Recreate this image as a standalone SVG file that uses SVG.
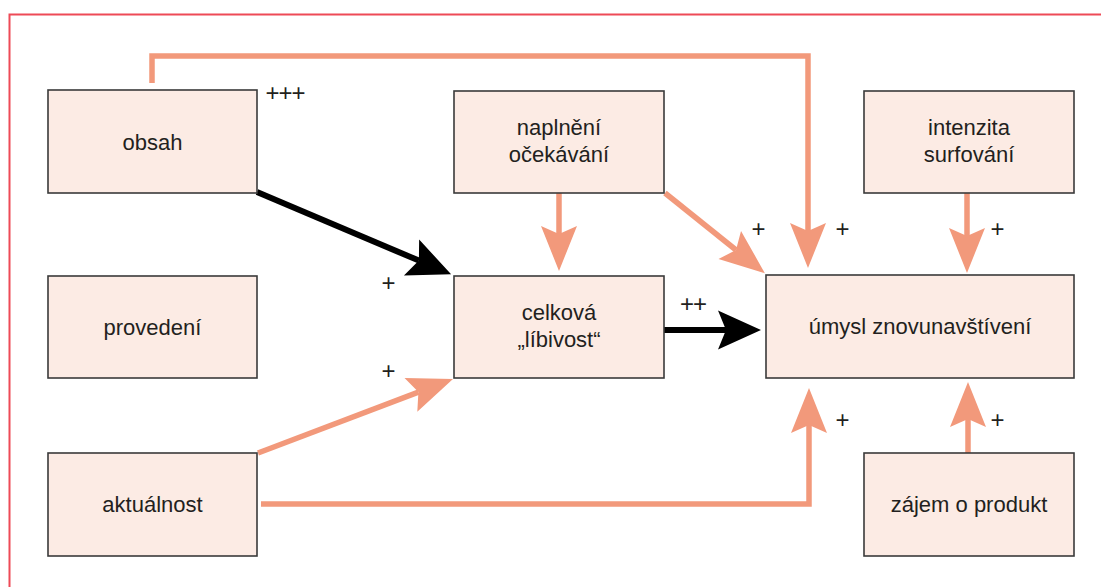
<svg xmlns="http://www.w3.org/2000/svg" width="1101" height="587" viewBox="0 0 1101 587">
  <style>
    .box { fill: #fcebe4; stroke: #3a3a3a; stroke-width: 1.6; }
    .lbl { font-family: "Liberation Sans", Arial, sans-serif; font-size: 22px; fill: #231f20; text-anchor: middle; }
    .sign { font-family: "Liberation Sans", Arial, sans-serif; font-size: 24px; letter-spacing: -1px; fill: #231f20; text-anchor: middle; }
    .pos { fill: none; stroke: #f2997b; stroke-width: 5.5; stroke-linejoin: miter; marker-end: url(#headPos); }
    .strong { fill: none; stroke: #000; stroke-width: 6; marker-end: url(#headStrong); }
  </style>
  <defs>
    <marker id="headPos" markerUnits="userSpaceOnUse" viewBox="-1 -20 47 40" markerWidth="47" markerHeight="40" refX="8" refY="0" orient="auto">
      <path d="M45,0 L0,-18 L8,0 L0,18 Z" fill="#f2997b"/>
    </marker>
    <marker id="headStrong" markerUnits="userSpaceOnUse" viewBox="-1 -21 47 42" markerWidth="47" markerHeight="42" refX="8" refY="0" orient="auto">
      <path d="M43,0 L0,-19.5 L8,0 L0,19.5 Z" fill="#000"/>
    </marker>
  </defs>

  <!-- frame -->
  <path d="M9.5,587 V14.5 H1101" fill="none" stroke="#ee4a57" stroke-width="2"/>

  <!-- connectors -->
  <g id="connectors">
    <path class="pos" d="M152,83 V56 H808 V231"/>
    <path class="pos" d="M559,193 V234"/>
    <path class="pos" d="M665,193 L736,250"/>
    <path class="pos" d="M967,193 V236"/>
    <path class="pos" d="M968,453 V419"/>
    <path class="pos" d="M261,504 H809 V425"/>
    <path class="pos" d="M258,453 L418.4,392.1"/>
    <path class="strong" d="M257,192 L418.9,260.6"/>
    <path class="strong" d="M664,330 H726"/>
  </g>

  <!-- effect signs -->
  <g id="signs">
    <text class="sign" x="285" y="100.5">+++</text>
    <text class="sign" x="388" y="290.5">+</text>
    <text class="sign" x="388" y="378.5">+</text>
    <text class="sign" x="758" y="236.5">+</text>
    <text class="sign" x="842" y="236.5">+</text>
    <text class="sign" x="997" y="236.5">+</text>
    <text class="sign" x="842" y="427.5">+</text>
    <text class="sign" x="997" y="427.5">+</text>
    <text class="sign" x="693" y="311.5">++</text>
  </g>

  <!-- nodes -->
  <g id="obsah">
    <rect class="box" x="48" y="90" width="209" height="103"/>
    <text class="lbl" x="152.5" y="150">obsah</text>
  </g>
  <g id="provedeni">
    <rect class="box" x="48" y="276" width="209" height="102"/>
    <text class="lbl" x="152.5" y="335">provedení</text>
  </g>
  <g id="aktualnost">
    <rect class="box" x="48" y="453" width="209" height="103"/>
    <text class="lbl" x="152.5" y="512">aktuálnost</text>
  </g>
  <g id="naplneni">
    <rect class="box" x="454" y="91" width="210" height="102"/>
    <text class="lbl" x="559" y="135">naplnění</text>
    <text class="lbl" x="559" y="162">očekávání</text>
  </g>
  <g id="celkova">
    <rect class="box" x="454" y="276" width="210" height="102"/>
    <text class="lbl" x="559" y="320">celková</text>
    <text class="lbl" x="559" y="347">„líbivost“</text>
  </g>
  <g id="intenzita">
    <rect class="box" x="864" y="91" width="210" height="102"/>
    <text class="lbl" x="969" y="135">intenzita</text>
    <text class="lbl" x="969" y="162">surfování</text>
  </g>
  <g id="umysl">
    <rect class="box" x="766" y="275" width="308" height="103"/>
    <text class="lbl" x="920" y="334">úmysl znovunavštívení</text>
  </g>
  <g id="zajem">
    <rect class="box" x="864" y="453" width="210" height="103"/>
    <text class="lbl" x="969" y="512">zájem o produkt</text>
  </g>
</svg>
